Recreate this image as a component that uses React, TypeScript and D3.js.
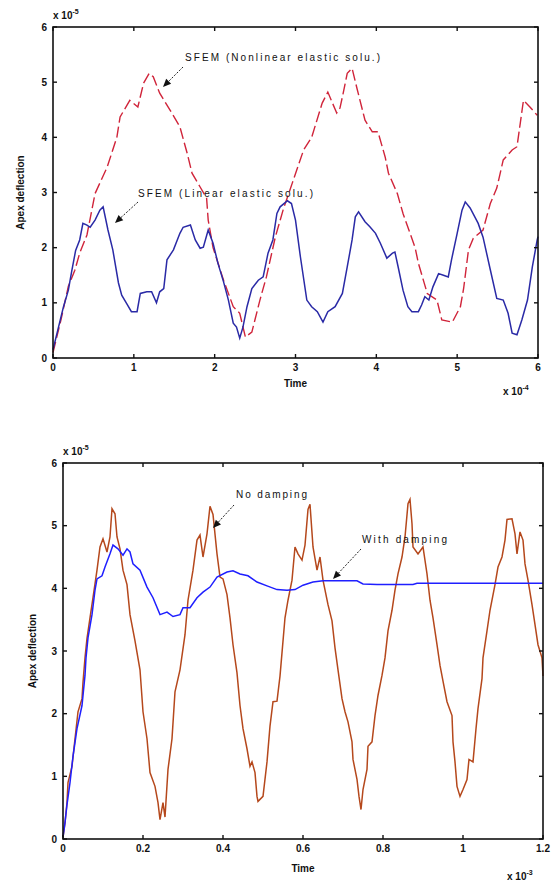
import React from "react";
import * as d3 from "d3";

// ---------- data ----------
// Top panel: time in 1e-4, deflection in 1e-5
const topXTicks = [0, 1, 2, 3, 4, 5, 6];
const topYTicks = [0, 1, 2, 3, 4, 5, 6];
const topLinear: [number, number][] = [
  [0, 0.15], [0.09, 0.69], [0.13, 0.93], [0.19, 1.23], [0.23, 1.56], [0.28, 1.95], [0.33, 2.14], [0.37, 2.44],
  [0.42, 2.41], [0.46, 2.37], [0.52, 2.5], [0.58, 2.68], [0.62, 2.74], [0.68, 2.32], [0.74, 1.96], [0.81, 1.36],
  [0.85, 1.14], [0.91, 0.99], [0.97, 0.84], [1.04, 0.84], [1.08, 1.17], [1.16, 1.2], [1.22, 1.2], [1.28, 1.0],
  [1.32, 1.2], [1.37, 1.26], [1.41, 1.78], [1.49, 1.96], [1.57, 2.26], [1.61, 2.37], [1.7, 2.41], [1.76, 2.14],
  [1.82, 1.99], [1.86, 2.01], [1.92, 2.32], [1.98, 2.08], [2.04, 1.72], [2.11, 1.38], [2.17, 1.05], [2.23, 0.63],
  [2.27, 0.56], [2.31, 0.36], [2.35, 0.56], [2.4, 0.93], [2.46, 1.26], [2.54, 1.41], [2.6, 1.47], [2.66, 1.9],
  [2.72, 2.14], [2.77, 2.62], [2.81, 2.74], [2.9, 2.85], [2.95, 2.8], [3.0, 2.5], [3.06, 1.84], [3.14, 1.05],
  [3.2, 0.93], [3.27, 0.84], [3.34, 0.65], [3.4, 0.84], [3.49, 0.93], [3.58, 1.17], [3.64, 1.65], [3.7, 2.14],
  [3.74, 2.56], [3.78, 2.65], [3.86, 2.47], [3.92, 2.38], [3.99, 2.26], [4.05, 2.08], [4.13, 1.81], [4.2, 1.9],
  [4.23, 1.92], [4.27, 1.65], [4.33, 1.23], [4.39, 0.93], [4.44, 0.84], [4.52, 0.84], [4.56, 0.96], [4.6, 1.11],
  [4.65, 1.05], [4.7, 1.29], [4.77, 1.53], [4.83, 1.5], [4.89, 1.47], [4.93, 1.78], [5.0, 2.26], [5.06, 2.68],
  [5.1, 2.83], [5.16, 2.72], [5.26, 2.44], [5.32, 2.19], [5.41, 1.6], [5.49, 1.08], [5.57, 1.05], [5.63, 0.81],
  [5.68, 0.45], [5.74, 0.42], [5.8, 0.69], [5.87, 1.05], [5.93, 1.65], [5.99, 2.14], [6.0, 2.2],
];
const topNonlinear: [number, number][] = [
  [0, 0.1], [0.1, 0.7], [0.19, 1.3], [0.27, 1.59], [0.33, 1.9], [0.42, 2.23], [0.52, 2.98], [0.67, 3.46],
  [0.79, 4.0], [0.83, 4.37], [0.95, 4.67], [1.05, 4.55], [1.12, 4.98], [1.19, 5.16], [1.24, 5.1], [1.32, 4.8],
  [1.45, 4.49], [1.57, 4.19], [1.66, 3.71], [1.72, 3.35], [1.82, 3.1], [1.9, 2.9], [1.92, 2.5], [1.98, 2.0],
  [2.11, 1.41], [2.23, 0.93], [2.31, 0.81], [2.38, 0.38], [2.46, 0.47], [2.56, 1.05], [2.64, 1.47], [2.75, 2.19],
  [2.85, 2.7], [2.96, 3.17], [3.1, 3.77], [3.2, 4.0], [3.33, 4.62], [3.4, 4.82], [3.51, 4.44], [3.55, 4.53],
  [3.59, 4.8], [3.64, 5.16], [3.7, 5.25], [3.76, 4.89], [3.86, 4.31], [3.95, 4.1], [4.02, 4.1], [4.11, 3.64],
  [4.15, 3.35], [4.26, 2.98], [4.33, 2.62], [4.48, 2.0], [4.52, 1.72], [4.63, 1.17], [4.75, 1.05], [4.81, 0.69],
  [4.94, 0.65], [5.04, 0.93], [5.08, 1.26], [5.14, 1.96], [5.2, 2.17], [5.32, 2.32], [5.41, 2.8], [5.49, 3.08],
  [5.57, 3.59], [5.68, 3.77], [5.74, 3.83], [5.78, 4.25], [5.82, 4.67], [5.9, 4.55], [5.99, 4.4],
];

// Bottom panel: time in 1e-3, deflection in 1e-5
const botXTicks = [0, 0.2, 0.4, 0.6, 0.8, 1, 1.2];
const botXLabels = ["0", "0.2", "0.4", "0.6", "0.8", "1", "1.2"];
const botYTicks = [0, 1, 2, 3, 4, 5, 6];
const botNoDamping: [number, number][] = [
  [0, 0.03], [0.005, 0.26], [0.01, 0.58], [0.0125, 0.9], [0.0225, 1.16], [0.03, 1.6], [0.0375, 2.03], [0.0475, 2.24],
  [0.05, 2.5], [0.055, 2.89], [0.06, 3.2], [0.0675, 3.53], [0.075, 3.85], [0.085, 4.29], [0.0925, 4.66], [0.1, 4.79],
  [0.11, 4.58], [0.1175, 4.82], [0.1225, 5.27], [0.13, 5.19], [0.135, 4.82], [0.1425, 4.63], [0.15, 4.29], [0.16, 4.06],
  [0.1675, 3.58], [0.18, 3.16], [0.1925, 2.7], [0.2, 2.03], [0.21, 1.6], [0.2175, 1.06], [0.23, 0.84], [0.2375, 0.58],
  [0.2425, 0.31], [0.25, 0.58], [0.255, 0.35], [0.2625, 1.11], [0.2725, 1.6], [0.28, 2.35], [0.2925, 2.7], [0.305, 3.26],
  [0.3125, 3.81], [0.325, 4.29], [0.335, 4.77], [0.3425, 4.85], [0.35, 4.5], [0.36, 4.87], [0.3675, 5.31], [0.375, 5.18],
  [0.385, 4.55], [0.3925, 4.18], [0.4, 4.15], [0.41, 3.9], [0.4175, 3.53], [0.425, 3.1], [0.435, 2.65], [0.4425, 2.13],
  [0.45, 1.76], [0.46, 1.44], [0.4675, 1.16], [0.4725, 1.23], [0.48, 1.06], [0.485, 0.68], [0.4875, 0.6], [0.5, 0.68],
  [0.51, 1.23], [0.5175, 1.8], [0.525, 2.19], [0.535, 2.2], [0.5425, 2.6], [0.555, 3.53], [0.5625, 3.81], [0.5725, 4.13],
  [0.58, 4.66], [0.5875, 4.55], [0.5975, 4.45], [0.605, 4.69], [0.6125, 5.26], [0.6175, 5.34], [0.625, 4.66], [0.635, 4.29],
  [0.6425, 4.5], [0.65, 4.13], [0.6625, 3.74], [0.6725, 3.48], [0.68, 3.05], [0.6875, 2.7], [0.6975, 2.24], [0.705, 2.03],
  [0.7125, 1.87], [0.7225, 1.55], [0.725, 1.27], [0.735, 0.95], [0.74, 0.68], [0.745, 0.47], [0.75, 0.79], [0.76, 1.11],
  [0.7625, 1.48], [0.7725, 1.55], [0.78, 1.97], [0.7875, 2.29], [0.7975, 2.61], [0.805, 2.89], [0.8125, 3.32], [0.8225, 3.65],
  [0.83, 3.97], [0.8375, 4.23], [0.8475, 4.5], [0.855, 4.82], [0.8625, 5.35], [0.8675, 5.42], [0.8725, 5.03], [0.875, 4.66],
  [0.8875, 4.55], [0.9, 4.66], [0.91, 4.23], [0.9175, 3.81], [0.925, 3.53], [0.935, 3.1], [0.9425, 2.77], [0.95, 2.52],
  [0.96, 2.19], [0.9725, 1.97], [0.975, 1.55], [0.98, 1.23], [0.985, 0.84], [0.9925, 0.68], [1.0, 0.79], [1.01, 0.95],
  [1.015, 1.27], [1.025, 1.23], [1.0325, 1.76], [1.0375, 2.08], [1.0475, 2.56], [1.05, 2.89], [1.06, 3.32], [1.0675, 3.65],
  [1.08, 4.06], [1.0875, 4.34], [1.0975, 4.5], [1.105, 4.77], [1.11, 5.1], [1.1225, 5.11], [1.13, 4.87], [1.135, 4.55],
  [1.1425, 4.9], [1.15, 4.77], [1.155, 4.39], [1.1625, 4.13], [1.1725, 3.74], [1.18, 3.42], [1.1875, 3.1], [1.1975, 2.89],
  [1.2, 2.6],
];
const botWithDamping: [number, number][] = [
  [0, 0.03], [0.005, 0.26], [0.01, 0.55], [0.0175, 0.9], [0.025, 1.32], [0.035, 1.76], [0.0475, 2.13], [0.055, 2.61],
  [0.0575, 2.89], [0.0625, 3.21], [0.0725, 3.58], [0.08, 3.97], [0.085, 4.15], [0.0975, 4.2], [0.105, 4.34], [0.1175, 4.55],
  [0.125, 4.69], [0.1375, 4.63], [0.15, 4.53], [0.16, 4.63], [0.1675, 4.58], [0.175, 4.39], [0.1925, 4.29], [0.21, 4.02],
  [0.225, 3.85], [0.2425, 3.58], [0.26, 3.62], [0.275, 3.55], [0.2925, 3.58], [0.3, 3.69], [0.3175, 3.69], [0.335, 3.85],
  [0.35, 3.94], [0.3675, 4.02], [0.385, 4.18], [0.41, 4.26], [0.425, 4.28], [0.4425, 4.23], [0.4625, 4.2], [0.485, 4.1],
  [0.51, 4.04], [0.535, 3.98], [0.56, 3.97], [0.58, 3.98], [0.6, 4.05], [0.625, 4.1], [0.65, 4.12], [0.735, 4.12],
  [0.75, 4.07], [0.785, 4.06], [0.875, 4.06], [0.885, 4.08], [1.2, 4.08],
];

const FONT = "'Liberation Sans', Arial, sans-serif";

type PanelProps = {
  x0: number; x1: number; y0: number; y1: number;
  xDomain: [number, number]; xTicks: number[]; xLabels: string[];
  yTicks: number[]; xExp: string; yExp: string;
  timeY: number; expXY: [number, number]; yLabelX: number;
  children: (sx: d3.ScaleLinear<number, number>, sy: d3.ScaleLinear<number, number>) => React.ReactNode;
};

function Panel(p: PanelProps) {
  const sx = d3.scaleLinear().domain(p.xDomain).range([p.x0, p.x1]);
  const sy = d3.scaleLinear().domain([0, 6]).range([p.y1, p.y0]);
  const tl = 4;
  return (
    <g>
      {p.children(sx, sy)}
      <rect x={p.x0} y={p.y0} width={p.x1 - p.x0} height={p.y1 - p.y0} fill="none" stroke="#111" strokeWidth={1.6} />
      {p.xTicks.map((t, i) => (
        <g key={"xt" + i}>
          <line x1={sx(t)} x2={sx(t)} y1={p.y1} y2={p.y1 - tl} stroke="#111" strokeWidth={1.4} />
          <line x1={sx(t)} x2={sx(t)} y1={p.y0} y2={p.y0 + tl} stroke="#111" strokeWidth={1.4} />
          <text x={sx(t)} y={p.y1 + 13} textAnchor="middle" fontSize={10} fontWeight="bold" fontFamily={FONT} fill="#111">
            {p.xLabels[i]}
          </text>
        </g>
      ))}
      {p.yTicks.map((t, i) => (
        <g key={"yt" + i}>
          <line x1={p.x0} x2={p.x0 + tl} y1={sy(t)} y2={sy(t)} stroke="#111" strokeWidth={1.4} />
          <line x1={p.x1} x2={p.x1 - tl} y1={sy(t)} y2={sy(t)} stroke="#111" strokeWidth={1.4} />
          <text x={p.x0 - 6} y={sy(t) + 3.5} textAnchor="end" fontSize={10} fontWeight="bold" fontFamily={FONT} fill="#111">
            {String(t)}
          </text>
        </g>
      ))}
      <text x={(p.x0 + p.x1) / 2} y={p.timeY} textAnchor="middle" fontSize={10} fontWeight="bold" fontFamily={FONT} fill="#111">Time</text>
      <text x={p.expXY[0]} y={p.expXY[1]} fontSize={10} fontWeight="bold" fontFamily={FONT} fill="#111">
        x 10<tspan dy={-5} fontSize={7}>{p.xExp}</tspan>
      </text>
      <text x={p.x0} y={p.y0 - 8} fontSize={10} fontWeight="bold" fontFamily={FONT} fill="#111">
        x 10<tspan dy={-5} fontSize={7}>{p.yExp}</tspan>
      </text>
      <text transform={`translate(${p.yLabelX},${(p.y0 + p.y1) / 2}) rotate(-90)`} textAnchor="middle" fontSize={10} fontWeight="bold" fontFamily={FONT} fill="#111">
        Apex deflection
      </text>
    </g>
  );
}

function Arrow({ x1, y1, x2, y2 }: { x1: number; y1: number; x2: number; y2: number }) {
  const a = Math.atan2(y2 - y1, x2 - x1);
  const L = 8, W = 3.5;
  const bx = x2 - L * Math.cos(a), by = y2 - L * Math.sin(a);
  const px = -Math.sin(a) * W, py = Math.cos(a) * W;
  return (
    <g>
      <line x1={x1} y1={y1} x2={bx} y2={by} stroke="#222" strokeWidth={1} strokeDasharray="2,1.5" />
      <path d={`M${x2},${y2}L${bx + px},${by + py}L${bx - px},${by - py}Z`} fill="#111" />
    </g>
  );
}

export default function App() {
  const lineGen = (sx: d3.ScaleLinear<number, number>, sy: d3.ScaleLinear<number, number>) =>
    d3.line<[number, number]>().x((d) => sx(d[0])).y((d) => sy(d[1]));
  return (
    <svg width={556} height={882} style={{ position: "absolute", left: 0, top: 0, background: "#fff" }}>
      <rect x={0} y={0} width={556} height={882} fill="#fff" />
      <Panel x0={53} x1={538} y0={27} y1={358} xDomain={[0, 6]} xTicks={topXTicks} xLabels={topXTicks.map(String)}
        yTicks={topYTicks} xExp="-4" yExp="-5" timeY={387} expXY={[503, 395]} yLabelX={24}>
        {(sx, sy) => (
          <g>
            <path d={lineGen(sx, sy)(topNonlinear) || ""} fill="none" stroke="#d0243a" strokeWidth={1.4} strokeDasharray="11,4" />
            <path d={lineGen(sx, sy)(topLinear) || ""} fill="none" stroke="#2a2aa6" strokeWidth={1.5} />
          </g>
        )}
      </Panel>
      <text x={185} y={61} fontSize={10} fontFamily={FONT} fill="#111" textLength={195} lengthAdjust="spacing">SFEM (Nonlinear elastic solu.)</text>
      <Arrow x1={183} y1={67} x2={163} y2={87} />
      <text x={138} y={197} fontSize={10} fontFamily={FONT} fill="#111" textLength={175} lengthAdjust="spacing">SFEM (Linear elastic solu.)</text>
      <Arrow x1={138} y1={202} x2={115} y2={223} />

      <Panel x0={63} x1={543} y0={463} y1={839} xDomain={[0, 1.2]} xTicks={botXTicks} xLabels={botXLabels}
        yTicks={botYTicks} xExp="-3" yExp="-5" timeY={872} expXY={[507, 880]} yLabelX={36}>
        {(sx, sy) => (
          <g>
            <path d={lineGen(sx, sy)(botNoDamping) || ""} fill="none" stroke="#b5481c" strokeWidth={1.5} />
            <path d={lineGen(sx, sy)(botWithDamping) || ""} fill="none" stroke="#1f1fff" strokeWidth={1.5} />
          </g>
        )}
      </Panel>
      <text x={236} y={498} fontSize={10} fontFamily={FONT} fill="#111" textLength={71} lengthAdjust="spacing">No damping</text>
      <Arrow x1={234} y1={505} x2={213} y2={528} />
      <text x={362} y={543} fontSize={10} fontFamily={FONT} fill="#111" textLength={85} lengthAdjust="spacing">With damping</text>
      <Arrow x1={361} y1={549} x2={333} y2={579} />
    </svg>
  );
}
